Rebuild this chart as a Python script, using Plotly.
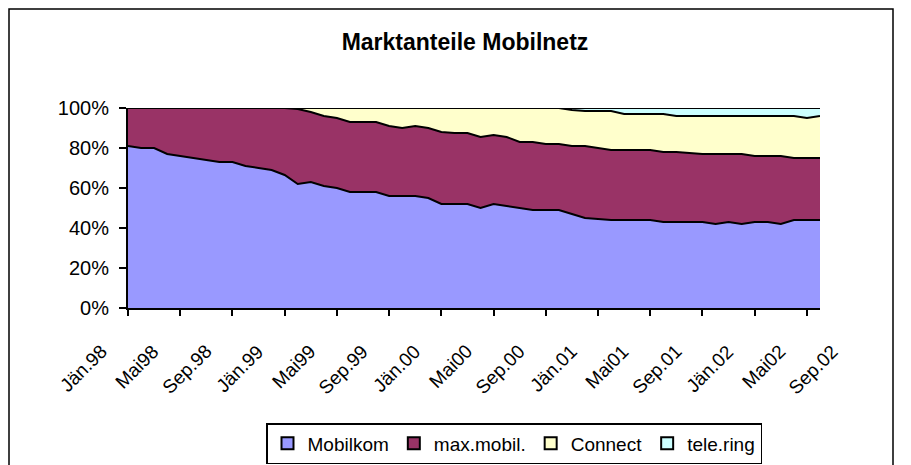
import plotly.graph_objects as go

# ---------------- data ----------------
months = [
    "Jän.98", "Feb.98", "Mär.98", "Apr.98", "Mai98", "Jun.98", "Jul.98", "Aug.98", "Sep.98", "Okt.98", "Nov.98", "Dez.98",
    "Jän.99", "Feb.99", "Mär.99", "Apr.99", "Mai99", "Jun.99", "Jul.99", "Aug.99", "Sep.99", "Okt.99", "Nov.99", "Dez.99",
    "Jän.00", "Feb.00", "Mär.00", "Apr.00", "Mai00", "Jun.00", "Jul.00", "Aug.00", "Sep.00", "Okt.00", "Nov.00", "Dez.00",
    "Jän.01", "Feb.01", "Mär.01", "Apr.01", "Mai01", "Jun.01", "Jul.01", "Aug.01", "Sep.01", "Okt.01", "Nov.01", "Dez.01",
    "Jän.02", "Feb.02", "Mär.02", "Apr.02", "Mai02", "Jun.02",
]

mobilkom = [81, 80, 80, 77, 76, 75, 74, 73, 73, 71, 70, 69,
            66.5, 62, 63, 61, 60, 58, 58, 58, 56, 56, 56, 55,
            52, 52, 52, 50, 52, 51, 50, 49, 49, 49, 47, 45,
            44.5, 44, 44, 44, 44, 43, 43, 43, 43, 42, 43, 42,
            43, 43, 42, 44, 44, 44]

maxmobil = [19, 20, 20, 23, 24, 25, 26, 27, 27, 29, 30, 31,
            33.5, 37.5, 35, 35, 35, 35, 35, 35, 35, 34, 35, 35,
            36, 35.5, 35.5, 35.5, 34.5, 34.5, 33, 34, 33, 33, 34, 36,
            35.5, 35, 35, 35, 35, 35, 35, 34.5, 34, 35, 34, 35,
            33, 33, 34, 31, 31, 31]

connect = [0, 0, 0, 0, 0, 0, 0, 0, 0, 0, 0, 0,
           0, 0.5, 2, 4, 5, 7, 7, 7, 9, 10, 9, 10,
           12, 12.5, 12.5, 14.5, 13.5, 14.5, 17, 17, 18, 18, 18, 17.5,
           18.5, 19.5, 18, 18, 18, 19, 18, 18.5, 19, 19, 19, 19,
           20, 20, 20, 21, 20, 21]

telering = [0, 0, 0, 0, 0, 0, 0, 0, 0, 0, 0, 0,
            0, 0, 0, 0, 0, 0, 0, 0, 0, 0, 0, 0,
            0, 0, 0, 0, 0, 0, 0, 0, 0, 0, 1, 1.5,
            1.5, 1.5, 3, 3, 3, 3, 4, 4, 4, 4, 4, 4,
            4, 4, 4, 4, 5, 4]

series_names = ["Mobilkom", "max.mobil.", "Connect", "tele.ring"]
series_values = [mobilkom, maxmobil, connect, telering]
series_colors = ["#9999FF", "#993366", "#FFFFCC", "#CCFFFF"]

tick_labels = ["Jän.98", "Mai98", "Sep.98", "Jän.99", "Mai99", "Sep.99", "Jän.00", "Mai00",
               "Sep.00", "Jän.01", "Mai01", "Sep.01", "Jän.02", "Mai02", "Sep.02"]
y_ticks = [0, 20, 40, 60, 80, 100]
y_tick_text = ["0%", "20%", "40%", "60%", "80%", "100%"]

FONT = "Liberation Sans, Arial, sans-serif"

# page body has an 8px default margin; figure is sized to fit the window
W, H = 903, 457
L, T, R, B = 120, 100, 91, 157
PW, PH = W - L - R, H - T - B

# ---------------- figure ----------------
fig = go.Figure()
xidx = list(range(len(months)))
xmax = len(months) - 1

for name, vals, col in zip(series_names, series_values, series_colors):
    fig.add_trace(go.Scatter(
        x=xidx, y=vals, name=name, stackgroup="one", mode="lines",
        line=dict(color="black", width=2), fillcolor=col, showlegend=False,
        hoverinfo="x+y+name",
    ))
    # legend entry with square swatch
    fig.add_trace(go.Scatter(
        x=[None], y=[None], name=name, mode="markers",
        marker=dict(symbol="square", size=11, color=col, line=dict(color="black", width=1.5)),
        showlegend=True,
    ))

# category tick labels (every 4th month), drawn rotated below the axis
step = 4
for i, lab in enumerate(tick_labels):
    fig.add_annotation(
        x=(i * step - 1.1) / xmax, y=0, xref="paper", yref="paper", text=lab, showarrow=False,
        textangle=-45, xanchor="right", yanchor="top", yshift=-30,
        font=dict(family=FONT, size=19, color="black"),
    )

fig.update_layout(
    width=W, height=H,
    margin=dict(l=L, r=R, t=T, b=B, autoexpand=False),
    paper_bgcolor="white", plot_bgcolor="white",
    title=dict(text="<b>Marktanteile Mobilnetz</b>", x=457 / W, xref="container", xanchor="center",
               y=1 - 34 / H, yref="container", yanchor="middle",
               font=dict(family=FONT, size=23, color="black")),
    font=dict(family=FONT, size=20, color="black"),
    showlegend=True,
    legend=dict(orientation="h", x=(506 - L) / PW, xanchor="center", y=-(415 - (T + PH)) / PH, yanchor="top",
                bordercolor="black", borderwidth=1.5, bgcolor="white", traceorder="normal",
                font=dict(family=FONT, size=19, color="black"),
                itemsizing="constant"),
    xaxis=dict(range=[0, xmax], tickmode="array",
               tickvals=list(range(0, len(months), step)), ticktext=["" for _ in range(0, len(months), step)],
               ticks="outside", ticklen=6, tickwidth=1.5, tickcolor="black",
               showline=True, linecolor="black", linewidth=2, showgrid=False, zeroline=False,
               fixedrange=True),
    yaxis=dict(range=[0, 100], tickmode="array", tickvals=y_ticks, ticktext=y_tick_text,
               ticks="outside", ticklen=7, tickwidth=1.5, tickcolor="black",
               showline=True, linecolor="black", linewidth=2, showgrid=False, zeroline=False,
               ticklabelstandoff=6, fixedrange=True, tickfont=dict(size=20)),
)

# outer chart frame
fig.add_shape(type="rect", xref="paper", yref="paper",
              x0=(1 - L) / PW, x1=(885 - L) / PW,
              y0=-(462 - (T + PH)) / PH, y1=(T + PH - 1) / PH,
              line=dict(color="black", width=1.5), fillcolor="rgba(0,0,0,0)", layer="below")

fig.write_html("out.html")
